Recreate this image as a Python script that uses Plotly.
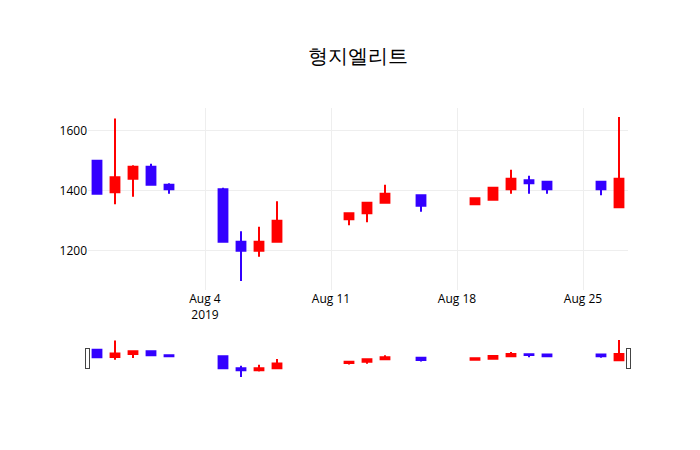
import plotly.graph_objects as go

dates = ["2019-07-29", "2019-07-30", "2019-07-31", "2019-08-01", "2019-08-02",
         "2019-08-05", "2019-08-06", "2019-08-07", "2019-08-08",
         "2019-08-12", "2019-08-13", "2019-08-14", "2019-08-16",
         "2019-08-19", "2019-08-20", "2019-08-21", "2019-08-22", "2019-08-23",
         "2019-08-26", "2019-08-27"]
open_ = [1500, 1395, 1440, 1480, 1420, 1405, 1230, 1200, 1230,
         1305, 1325, 1360, 1385, 1355, 1370, 1405, 1435, 1430, 1430, 1345]
high = [1500, 1640, 1485, 1490, 1425, 1410, 1265, 1280, 1365,
        1325, 1360, 1420, 1385, 1375, 1410, 1470, 1450, 1430, 1430, 1645]
low = [1390, 1355, 1380, 1420, 1390, 1230, 1100, 1180, 1230,
       1285, 1295, 1360, 1330, 1355, 1370, 1390, 1390, 1390, 1385, 1345]
close = [1390, 1445, 1480, 1420, 1405, 1230, 1200, 1230, 1300,
         1325, 1360, 1390, 1350, 1375, 1410, 1440, 1425, 1405, 1405, 1440]

fig = go.Figure(go.Candlestick(
    x=dates, open=open_, high=high, low=low, close=close,
    increasing=dict(line=dict(color="#ff0000"), fillcolor="#ff0000"),
    decreasing=dict(line=dict(color="#3300ff"), fillcolor="#3300ff"),
))
fig.update_layout(
    title=dict(text="형지엘리트", x=0.5, y=0.91, font=dict(size=20, color="black")),
    font=dict(color="black"),
    template="none",
    plot_bgcolor="white",
    width=700, height=450,
    margin=dict(l=80, r=80, t=100, b=80),
    showlegend=False,
)
fig.update_xaxes(gridcolor="#eeeeee", zeroline=False, showline=False)
fig.update_yaxes(gridcolor="#eeeeee", zeroline=False, showline=False)
fig.write_html("out.html")
